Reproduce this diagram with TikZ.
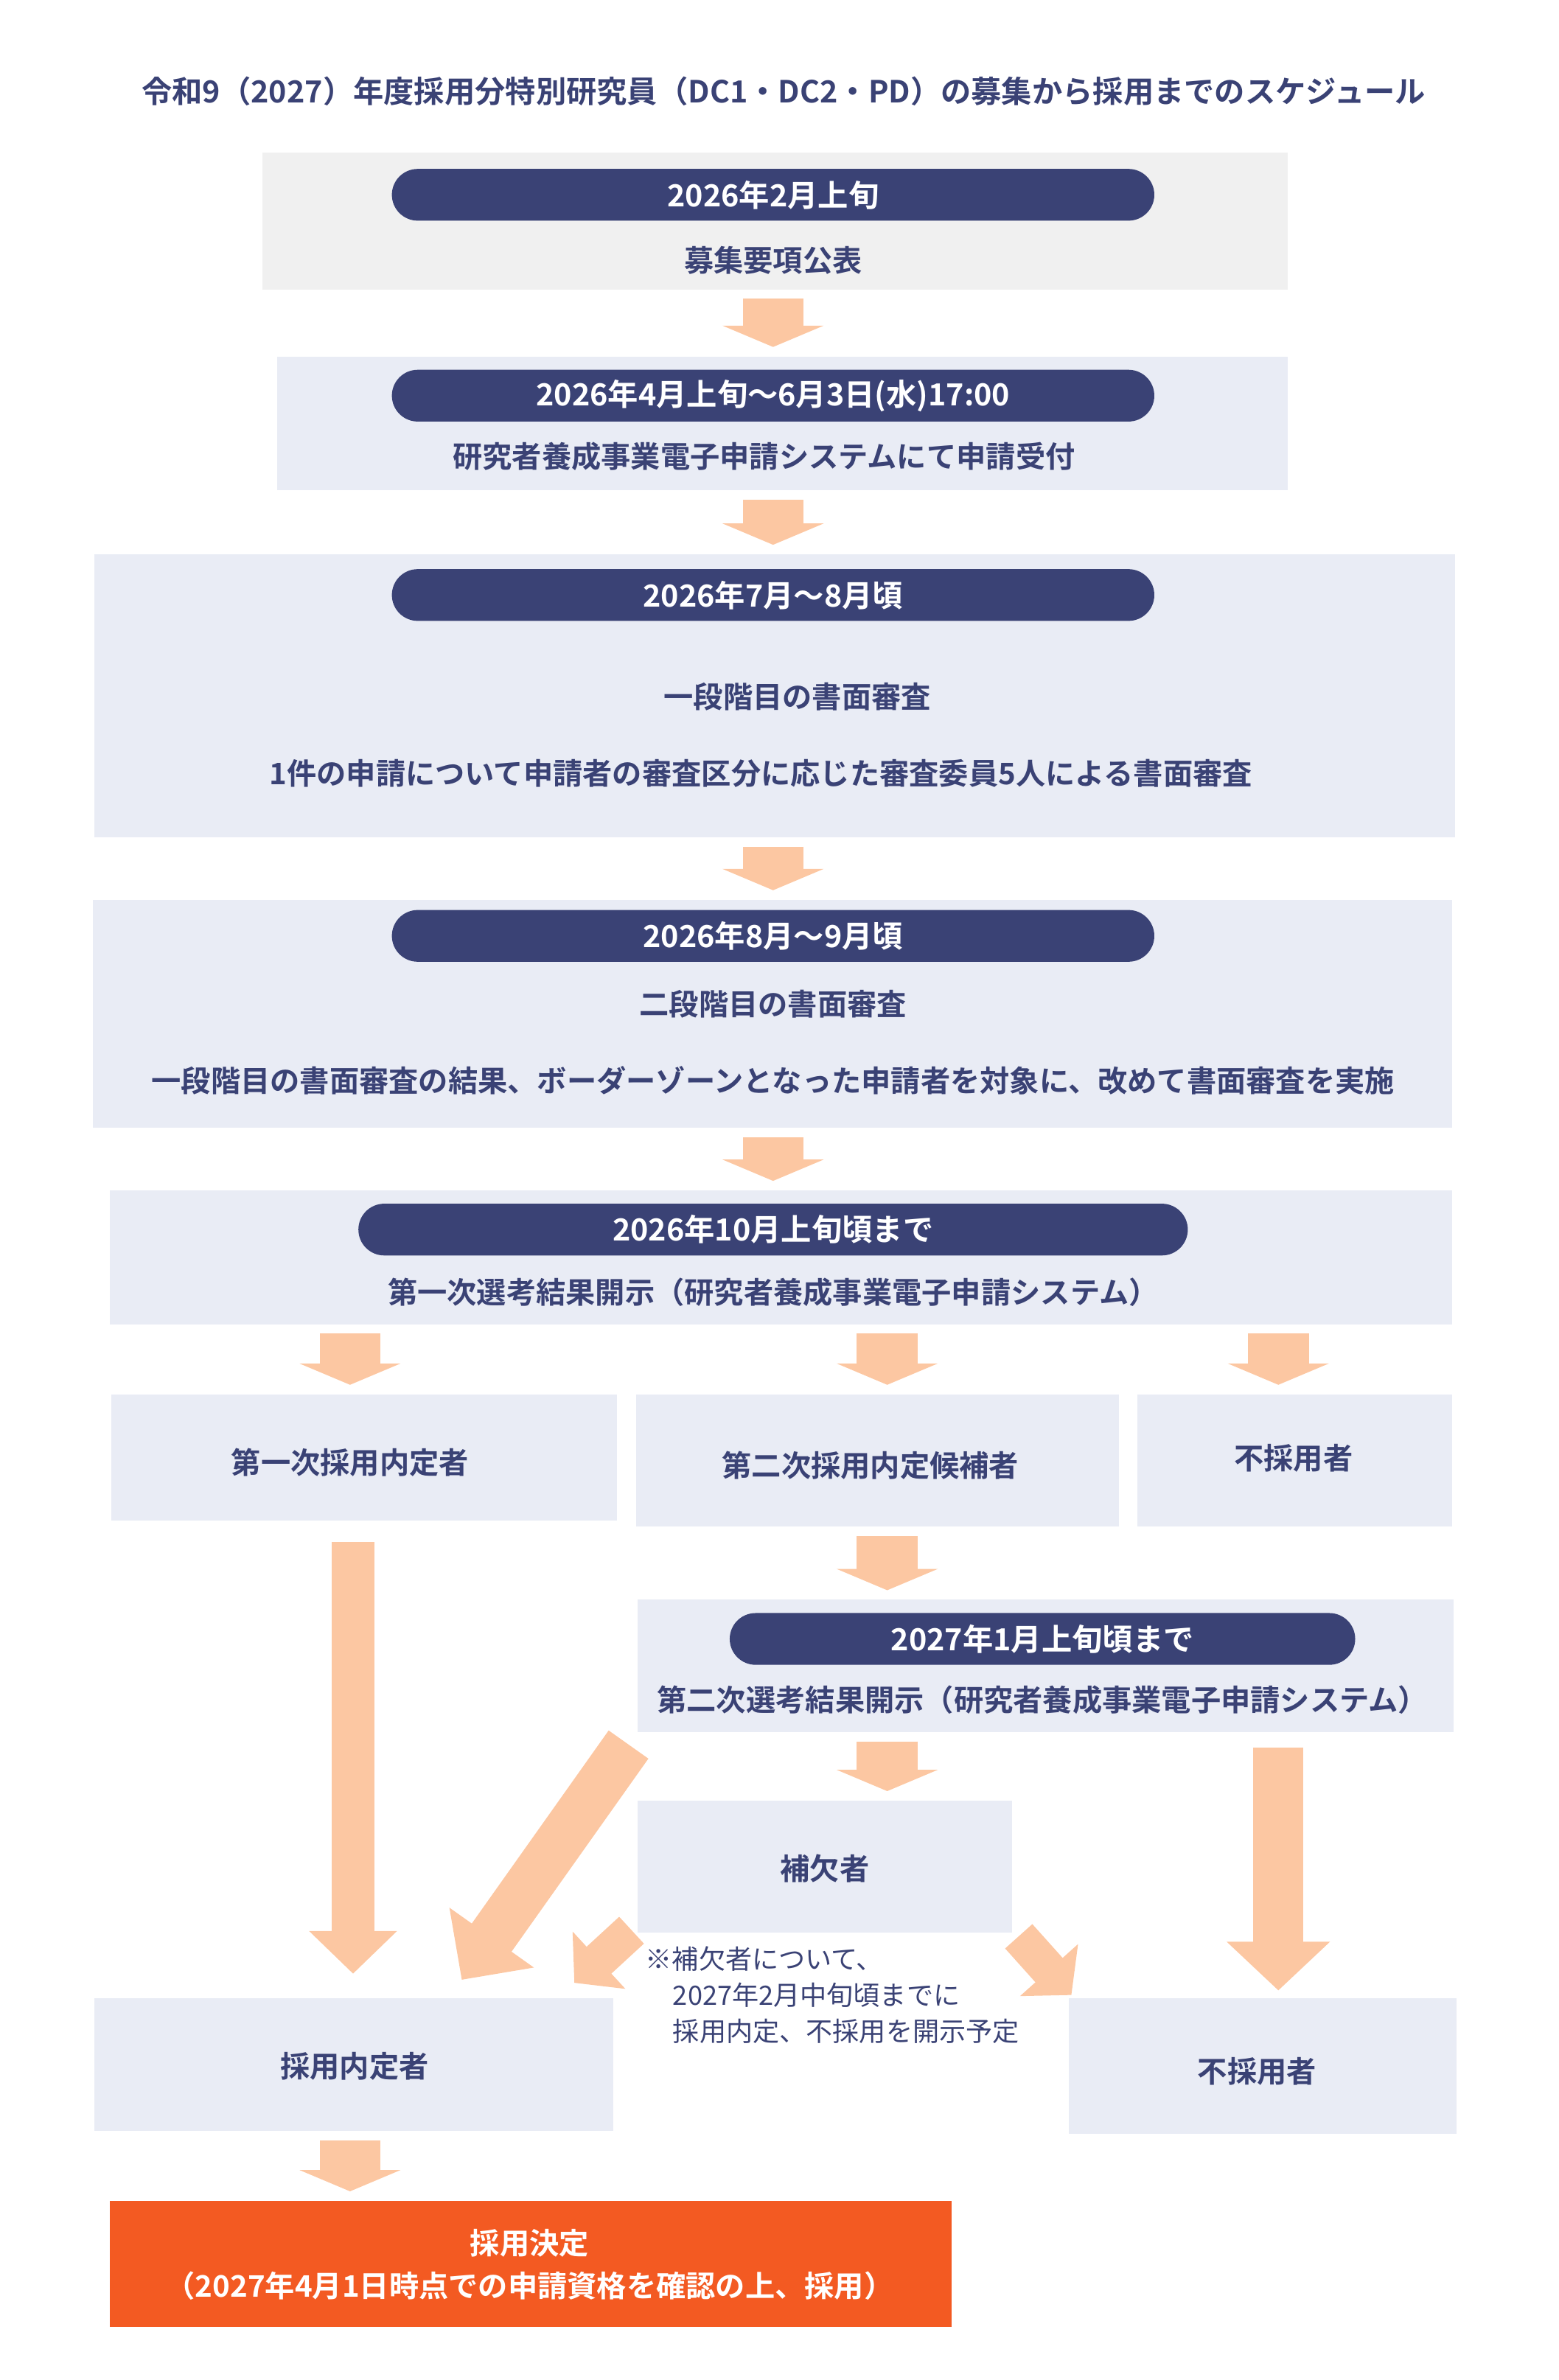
\documentclass[tikz,border=0pt]{standalone}
\usepackage{fontspec}
\setmainfont{Noto Sans CJK JP}[BoldFont={Noto Sans CJK JP Bold}]
\usetikzlibrary{arrows.meta,calc}
\definecolor{navy}{HTML}{3A4275}
\definecolor{boxbg}{HTML}{E9ECF5}
\definecolor{graybg}{HTML}{F0F0F0}
\definecolor{peach}{HTML}{FCC7A2}
\definecolor{decide}{HTML}{F35A22}
\tikzset{
  box/.style={fill=boxbg,anchor=north west,inner sep=0pt},
  pill/.style={fill=navy,rounded corners=17pt,minimum height=34pt,inner sep=0pt,
    text=white,font=\bfseries\fontsize{20}{24}\selectfont},
  txt/.style={text=navy,font=\bfseries\fontsize{19.5}{24}\selectfont,inner sep=0pt},
  note/.style={text=navy,font=\fontsize{17.5}{24}\selectfont,inner sep=0pt,anchor=west},
  fat/.style={draw=peach,line width=40pt,-{Triangle[length=14pt,width=66pt]},
    shorten <=6pt,shorten >=6pt},
  fatlong/.style={draw=peach,line width=28pt,-{Triangle[length=28pt,width=56pt]}},
}
\begin{document}
\begin{tikzpicture}[x=1pt,y=-1pt]
\useasboundingbox (0,0) rectangle (1024,1564);
\node[text=navy,font=\bfseries\fontsize{20}{24}\selectfont] (title) at (515,60)
  {令和9（2027）年度採用分特別研究員（DC1・DC2・PD）の募集から採用までのスケジュール};
% stage 1
\node[box,fill=graybg,minimum width=674pt,minimum height=90pt] (s1) at (172,100) {};
\node[pill,minimum width=501pt] (p1) at (508,128) {2026年2月上旬};
\node[txt] (t1) at (508,171) {募集要項公表};
% stage 2
\node[box,minimum width=664pt,minimum height=88pt] (s2) at (182,234) {};
\node[pill,minimum width=501pt] (p2) at (508,260) {2026年4月上旬～6月3日(水)17:00};
\node[txt] (t2) at (502,300) {研究者養成事業電子申請システムにて申請受付};
% stage 3
\node[box,minimum width=894pt,minimum height=186pt] (s3) at (62,364) {};
\node[pill,minimum width=501pt] (p3) at (508,391) {2026年7月～8月頃};
\node[txt] (t3a) at (524,458) {一段階目の書面審査};
\node[txt] (t3b) at (500,508) {1件の申請について申請者の審査区分に応じた審査委員5人による書面審査};
% stage 4
\node[box,minimum width=893pt,minimum height=150pt] (s4) at (61,591) {};
\node[pill,minimum width=501pt] (p4) at (508,615) {2026年8月～9月頃};
\node[txt] (t4a) at (508,660) {二段階目の書面審査};
\node[txt] (t4b) at (508,710) {一段階目の書面審査の結果、ボーダーゾーンとなった申請者を対象に、改めて書面審査を実施};
% stage 5
\node[box,minimum width=882pt,minimum height=88pt] (s5) at (72,782) {};
\node[pill,minimum width=545pt] (p5) at (508,808) {2026年10月上旬頃まで};
\node[txt] (t5) at (508,849) {第一次選考結果開示（研究者養成事業電子申請システム）};
% first results
\node[box,minimum width=332pt,minimum height=83pt] (r1) at (73,916) {};
\node[txt] (r1t) at (230,961) {第一次採用内定者};
\node[box,minimum width=317pt,minimum height=87pt] (r2) at (418,916) {};
\node[txt] (r2t) at (572,963) {第二次採用内定候補者};
\node[box,minimum width=207pt,minimum height=87pt] (r3) at (747,916) {};
\node[txt] (r3t) at (850,958) {不採用者};
% stage 6
\node[box,minimum width=536pt,minimum height=87pt] (s6) at (419,1051) {};
\node[pill,minimum width=411pt] (p6) at (685,1077) {2027年1月上旬頃まで};
\node[txt] (t6) at (685,1117) {第二次選考結果開示（研究者養成事業電子申請システム）};
% substitute
\node[box,minimum width=246pt,minimum height=87pt] (sub) at (419,1183) {};
\node[txt] (subt) at (542,1228) {補欠者};
\node[note] (n1) at (424,1287) {※補欠者について、};
\node[note] (n2) at (442,1311) {2027年2月中旬頃までに};
\node[note] (n3) at (442,1335) {採用内定、不採用を開示予定};
% final
\node[box,minimum width=341pt,minimum height=87pt] (ok) at (62,1313) {};
\node[txt] (okt) at (233,1358) {採用内定者};
\node[box,minimum width=255pt,minimum height=89pt] (ng) at (702,1313) {};
\node[txt] (ngt) at (826,1361) {不採用者};
\node[box,fill=decide,minimum width=553pt,minimum height=83pt] (dec) at (72,1446) {};
\node[txt,text=white,align=center,font=\bfseries\fontsize{19.5}{28}\selectfont] (dect) at (348,1488)
  {採用決定\\（2027年4月1日時点での申請資格を確認の上、採用）};
% arrows
\draw[fat] (s1.south -| p1) -- (s2.north -| p1);
\draw[fat] (s2.south -| p1) -- (s3.north -| p1);
\draw[fat] (s3.south -| p1) -- (s4.north -| p1);
\draw[fat] (s4.south -| p1) -- (s5.north -| p1);
\draw[fat] (s5.south -| r1t) -- (r1.north -| r1t);
\draw[fat] (s5.south -| 583,0) -- (r2.north -| 583,0);
\draw[fat] (s5.south -| 840,0) -- (r3.north -| 840,0);
\draw[fat] (r2.south -| 583,0) -- (s6.north -| 583,0);
\draw[fat] (s6.south -| 583,0) -- (sub.north -| 583,0);
\draw[fat] (ok.south -| r1t) -- (dec.north -| r1t);
\draw[fatlong,shorten <=14pt,shorten >=16pt] (r1.south -| 232,0) -- (ok.north -| 232,0);
\draw[fatlong,line width=33pt,-{Triangle[length=32pt,width=66pt]},shorten <=10pt,shorten >=5pt]
  (s6.south -| 840,0) -- (ng.north -| 840,0);
\coordinate (d1s) at ($(s6.south west)+(-6,8)$);
\coordinate (d1e) at ($(ok.north east)+(-100,-12)$);
\draw[fatlong,line width=32pt,-{Triangle[length=34pt,width=66pt]}] (d1s) -- (d1e);
\coordinate (d2s) at ($(sub.south west)+(-4,-2)$);
\coordinate (d2e) at ($(ok.north east)+(-26,-10)$);
\draw[fatlong,line width=24pt,-{Triangle[length=22pt,width=50pt]}] (d2s) -- (d2e);
\coordinate (d3s) at ($(sub.south east)+(4,2)$);
\coordinate (d3e) at ($(ng.north west)+(2,-2)$);
\draw[fatlong,line width=24pt,-{Triangle[length=22pt,width=50pt]}] (d3s) -- (d3e);
\end{tikzpicture}
\end{document}
